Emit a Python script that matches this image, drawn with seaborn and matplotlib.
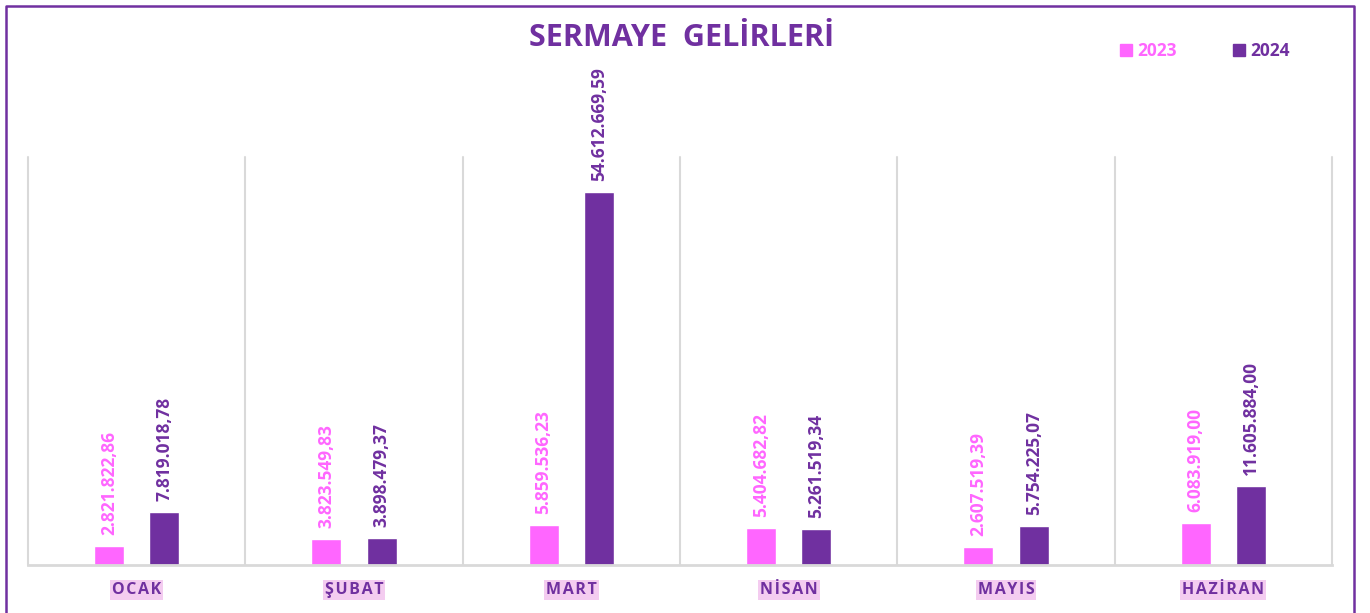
import matplotlib
matplotlib.use("Agg")
import matplotlib.pyplot as plt
from matplotlib.lines import Line2D
import seaborn as sns
import pandas as pd

months = ["OCAK", "ŞUBAT", "MART", "NİSAN", "MAYIS", "HAZİRAN"]
years = ["2023", "2024"]
values_2023 = [2821822.86, 3823549.83, 5859536.23, 5404682.82, 2607519.39, 6083919.00]
values_2024 = [7819018.78, 3898479.37, 54612669.59, 5261519.34, 5754225.07, 11605884.00]

PINK = "#FF66FF"
PURPLE = "#7030A0"
GRID = "#D9D9D9"

df = pd.DataFrame({
    "month": months * 2,
    "year": ["2023"] * len(months) + ["2024"] * len(months),
    "value": values_2023 + values_2024,
})

sns.set_theme(style="white")
plt.rcParams["font.family"] = ["Open Sans", "DejaVu Sans"]

fig = plt.figure(figsize=(13.7, 6.13), dpi=100)
ax = fig.add_axes([28 / 1370, 1 - 565 / 613, (1332 - 28) / 1370, (565 - 157) / 613])

sns.barplot(data=df, x="month", y="value", hue="year", order=months,
            hue_order=years, palette=[PINK, PURPLE], width=0.51, gap=0.46,
            saturation=1, ax=ax, legend=False)

def tr_fmt(v):
    s = f"{v:,.2f}"
    return s.replace(",", "X").replace(".", ",").replace("X", ".")

for cont, col in zip(ax.containers, [PINK, PURPLE]):
    vals = [b.get_height() for b in cont]
    ax.bar_label(cont, labels=[tr_fmt(v) for v in vals], rotation=90,
                 padding=8, color=col, fontsize=12.5, fontweight="bold")

ax.set_ylim(0, 59_800_000)
ax.set_xlim(-0.5, len(months) - 0.5)
ax.set_yticks([])
ax.set_xlabel("")
ax.set_ylabel("")
for s in ["top", "left", "right"]:
    ax.spines[s].set_visible(False)
ax.spines["bottom"].set_color(GRID)
ax.spines["bottom"].set_linewidth(2)

for i in range(len(months) + 1):
    ax.axvline(i - 0.5, color=GRID, lw=1.5, zorder=0, clip_on=False)

ax.set_xticks(range(len(months)))
ax.set_xticklabels(["\u200a".join(m) for m in months], fontsize=11.5,
                   fontweight="bold", color=PURPLE)
ax.tick_params(axis="x", length=0, pad=12)
for lab in ax.get_xticklabels():
    lab.set_bbox(dict(facecolor="#F4CCF0", edgecolor="none", pad=1.5))

fig.text(682 / 1370, 1 - 38 / 613, "SERMAYE  GELİRLERİ", ha="center",
         va="center", fontsize=22, fontweight="bold", color=PURPLE)

handles = [Line2D([], [], marker="s", linestyle="", color=c, markersize=8)
           for c in [PINK, PURPLE]]
leg = fig.legend(handles, years, loc="center", bbox_to_anchor=(1205 / 1370, 1 - 51 / 613),
                 ncol=2, frameon=False, handlelength=0.7, handletextpad=0.3,
                 columnspacing=3.2, prop={"weight": "bold", "size": 12.5})
for t, c in zip(leg.get_texts(), [PINK, PURPLE]):
    t.set_color(c)

# figure border (left, top, right)
bx0, bx1, by = 5.5 / 1370, 1353.5 / 1370, 1 - 5.5 / 613
fig.add_artist(Line2D([bx0, bx0, bx1, bx1], [0, by, by, 0],
                      transform=fig.transFigure, color=PURPLE, lw=1.8))

fig.savefig("out.png", dpi=100)
